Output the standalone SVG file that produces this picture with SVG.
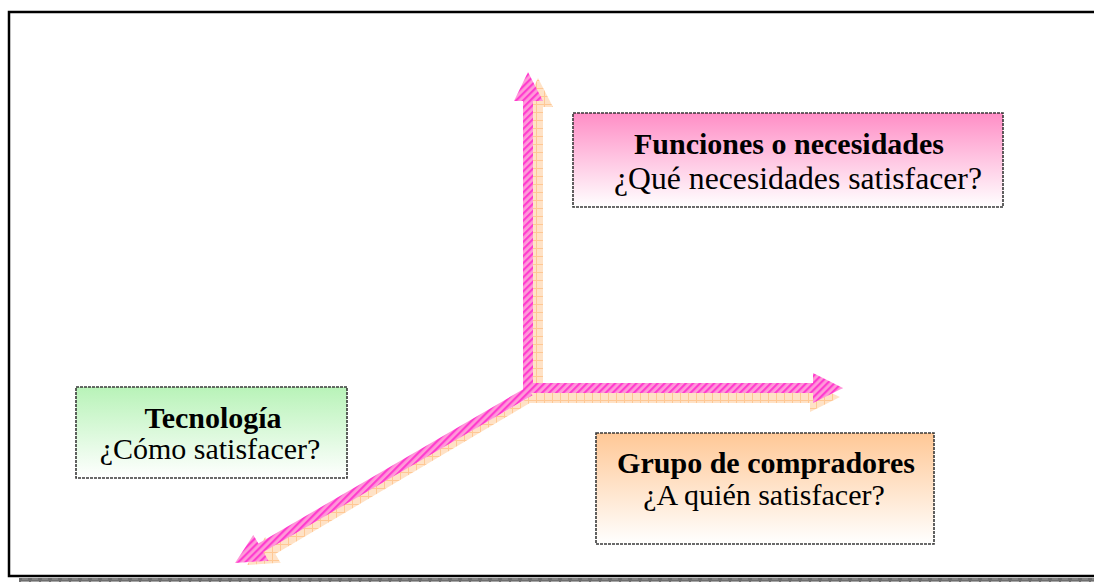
<svg xmlns="http://www.w3.org/2000/svg" width="1094" height="582" viewBox="0 0 1094 582">
<style>
.frame{fill:#fff;stroke:#000;stroke-width:2.5}
.box{stroke:#3a3a3a;stroke-width:1.6;stroke-dasharray:3 1}
.t1{font-family:"Liberation Serif","Times New Roman",serif;font-size:30px;font-weight:bold;fill:#000;text-anchor:middle}
.t2{font-family:"Liberation Serif","Times New Roman",serif;font-size:30px;fill:#000;text-anchor:middle}
.pink{fill:url(#stripes)}
.peach{fill:url(#grid)}
</style>
<defs>
<pattern id="stripes" patternUnits="userSpaceOnUse" width="5" height="5" patternTransform="rotate(45)">
<rect width="5" height="5" fill="#ff9ad8"/>
<rect width="2.2" height="5" fill="#ff3ccf"/>
</pattern>
<pattern id="grid" patternUnits="userSpaceOnUse" width="8" height="8">
<rect width="8" height="8" fill="#ffe2c6"/>
<rect width="8" height="1" fill="#ffc894"/>
<rect width="1" height="8" fill="#ffc894"/>
</pattern>
<pattern id="shadowstrip" patternUnits="userSpaceOnUse" width="10" height="4">
<rect width="10" height="4" fill="#6e6e6e"/>
<rect x="1" y="1" width="8" height="1" fill="#a8a8a8"/>
<rect x="2" y="2.5" width="6" height="1" fill="#9a9a9a"/>
</pattern>
<linearGradient id="gPink" x1="0" y1="0" x2="0" y2="1">
<stop offset="0" stop-color="#ff8ec6"/>
<stop offset="1" stop-color="#ffffff"/>
</linearGradient>
<linearGradient id="gGreen" x1="0" y1="0" x2="0" y2="1">
<stop offset="0" stop-color="#b8f3b8"/>
<stop offset="1" stop-color="#ffffff"/>
</linearGradient>
<linearGradient id="gOrange" x1="0" y1="0" x2="0" y2="1">
<stop offset="0" stop-color="#ffc896"/>
<stop offset="1" stop-color="#ffffff"/>
</linearGradient>
</defs>
<rect x="0" y="0" width="1094" height="582" fill="#fff"/>
<rect x="19" y="578" width="1080" height="6" fill="url(#shadowstrip)"/>
<rect class="frame" x="9" y="12" width="1100" height="564"/>

<g id="connectors">
<g id="shadows">
<path class="peach" d="M533,107 L524,107 L538,78 L553,107 L543,107 L543,403 L533,403 Z"/>
<path class="peach" d="M528,393 L810,393 L810,383 L840,397 L810,412 L810,403 L528,403 Z"/>
<path class="peach" d="M544.5,388.7 L539.5,397.3 L275.4,554.1 L280.5,562.7 L247,565 L265.3,536.9 L270.4,545.5 Z"/>
</g>
<g id="arrows">
<path class="pink" d="M523,101 L514,101 L528,72 L543,101 L533,101 L533,383 L523,383 Z"/>
<path class="pink" d="M523,383 L813,383 L813,373 L843,388 L813,403 L813,393 L523,393 Z"/>
<path class="pink" d="M532.5,395.3 L527.5,386.7 L258.4,543.5 L253.3,534.9 L235,563 L268.5,560.7 L263.4,552.1 Z"/>
</g>
</g>

<g id="node-funciones">
<rect class="box" x="573" y="113" width="430" height="94" fill="url(#gPink)"/>
<text class="t1" x="789" y="154">Funciones o necesidades</text>
<text class="t2" x="798" y="189" style="font-size:31px" textLength="368" lengthAdjust="spacingAndGlyphs">¿Qué necesidades satisfacer?</text>
</g>
<g id="node-tecnologia">
<rect class="box" x="76" y="387" width="271" height="91" fill="url(#gGreen)"/>
<text class="t1" x="213" y="428">Tecnología</text>
<text class="t2" x="210" y="459">¿Cómo satisfacer?</text>
</g>
<g id="node-grupo">
<rect class="box" x="596" y="433" width="338" height="111" fill="url(#gOrange)"/>
<text class="t1" x="766" y="473">Grupo de compradores</text>
<text class="t2" x="764" y="505">¿A quién satisfacer?</text>
</g>
</svg>
